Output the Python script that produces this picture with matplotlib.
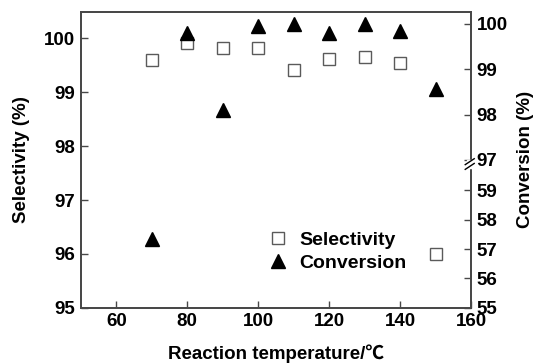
import numpy as np
import matplotlib.pyplot as plt
from matplotlib.lines import Line2D

plt.rcParams['font.family'] = ['Liberation Sans', 'DejaVu Sans']
plt.rcParams['font.weight'] = 'bold'

temps = [70, 80, 90, 100, 110, 120, 130, 140, 150]
selectivity = [99.60, 99.91, 99.83, 99.82, 99.41, 99.61, 99.65, 99.55, 96.00]
conversion = [57.34, 99.80, 98.10, 99.96, 99.99, 99.80, 99.99, 99.85, 98.56]

sel_ticks = [95, 96, 97, 98, 99, 100]
conv_ticks = [55, 56, 57, 58, 59, 97, 98, 99, 100]
x_ticks = [60, 80, 100, 120, 140, 160]

# broken right axis: 55-59 and 97-100 with different spacing
lo_top = 59.0
hi_bot = 97.0
gap = 1.04
k_hi = 1.546


def fwd(v):
    v = np.asarray(v, dtype=float)
    lo = v - 55
    mid = 4 + (v - lo_top) * gap / (hi_bot - lo_top)
    hi = 4 + gap + (v - hi_bot) * k_hi
    return np.where(v <= lo_top, lo, np.where(v < hi_bot, mid, hi))


def inv(p):
    p = np.asarray(p, dtype=float)
    lo = p + 55
    mid = lo_top + (p - 4) * (hi_bot - lo_top) / gap
    hi = hi_bot + (p - 4 - gap) / k_hi
    return np.where(p <= 4, lo, np.where(p < 4 + gap, mid, hi))


fs = 13.5
spine_col = '#484848'
fig = plt.figure(figsize=(5.39, 3.63), dpi=100)
ax = fig.add_axes([0.150, 0.152, 0.724, 0.815])
ax2 = ax.twinx()

ax.plot(temps, selectivity, 's', ms=8, mfc='white', mec='#5a5a5a', mew=1.0, clip_on=False)
ax2.plot(temps, conversion, '^', ms=10.5, color='black', clip_on=False)

ax.set_xlim(50, 160)
ax.set_ylim(95, 100.49)
ax.set_xticks(x_ticks)
ax.set_yticks(sel_ticks)

ax2.set_yscale('function', functions=(fwd, inv))
ax2.set_ylim(55, 100.26)
ax2.set_yticks(conv_ticks)
ax2.set_yticklabels([str(t) for t in conv_ticks])
ax2.minorticks_off()

for a in (ax, ax2):
    for s in a.spines.values():
        s.set_color(spine_col)
        s.set_linewidth(1.3)
    a.tick_params(direction='in', length=5, width=1, color=spine_col, labelsize=fs, pad=4)

ax.set_xlabel('Reaction temperature/\u2103', fontsize=fs, fontweight='bold', labelpad=10,
              family=['Liberation Sans', 'Noto Sans CJK SC', 'DejaVu Sans'])
ax.set_ylabel('Selectivity (%)', fontsize=fs, fontweight='bold', labelpad=10)
ax2.set_ylabel('Conversion (%)', fontsize=fs, fontweight='bold', labelpad=7)

# break marks on right spine
yb = 0.486
ax2.add_patch(plt.Rectangle((0.99, yb - 0.012), 0.02, 0.024, transform=ax2.transAxes,
                            color='white', clip_on=False, zorder=5))
for dy in (-0.008, 0.008):
    ax2.plot([0.985, 1.008], [yb + dy - 0.01, yb + dy + 0.01], color='black', lw=1,
             transform=ax2.transAxes, clip_on=False, zorder=6)

handles = [Line2D([], [], ls='none', marker='s', ms=8, mfc='white', mec='#5a5a5a', mew=1.0),
           Line2D([], [], ls='none', marker='^', ms=10.5, color='black')]
ax.legend(handles, ['Selectivity', 'Conversion'], loc='upper left', bbox_to_anchor=(0.435, 0.318),
          frameon=False, handlelength=1.0, handletextpad=0.6, labelspacing=0.3,
          prop={'size': 14, 'weight': 'bold'})

fig.savefig('out.png', dpi=100)
